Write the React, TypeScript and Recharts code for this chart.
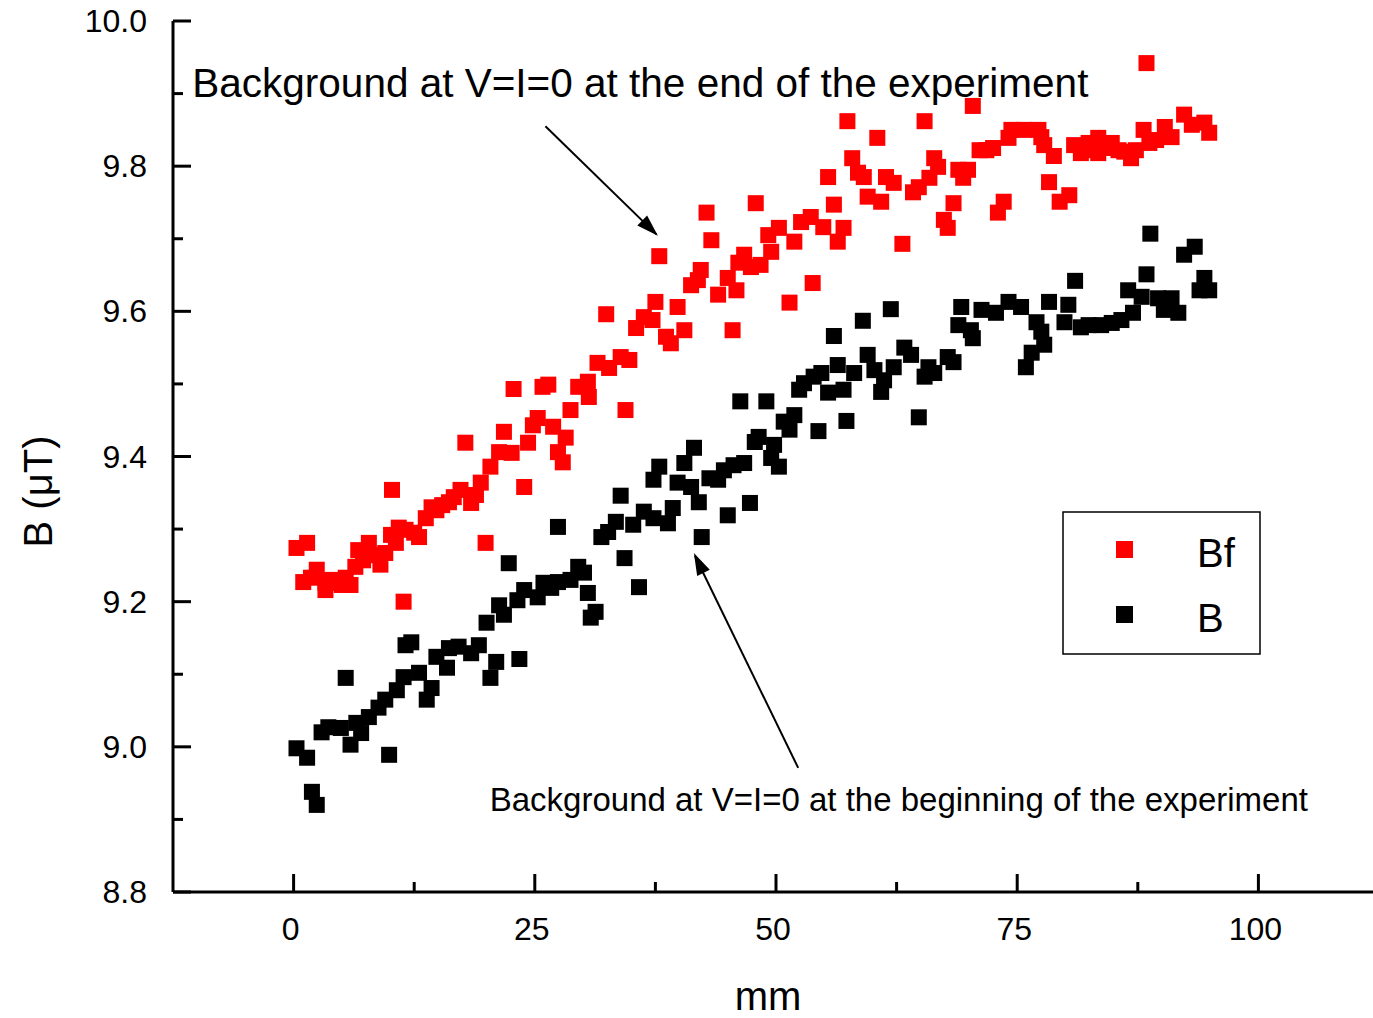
import React from "react";
import {
  ScatterChart,
  Scatter,
  XAxis,
  YAxis,
  ReferenceLine,
  ReferenceDot,
  Legend,
} from "recharts";

// ---- data (mm position, field in µT) ----
const bfMm = [
  0.3, 1.0, 1.4, 1.8, 2.4, 3.3, 3.3, 3.9, 4.4, 5.0, 5.4, 5.9, 6.4, 6.7, 7.2, 7.8, 8.2, 9.0, 9.5, 10.1,
  10.2, 10.6, 10.9, 11.4, 11.6, 12.5, 13.0, 13.7, 14.3, 14.8, 15.4, 16.1, 16.6, 17.3, 17.8, 18.4, 18.9,
  19.4, 19.9, 20.4, 21.3, 21.8, 22.6, 22.8, 23.9, 24.3, 24.8, 25.3, 25.8, 26.4, 26.9, 27.4, 27.9, 28.2,
  28.7, 29.5, 30.5, 30.6, 31.5, 32.4, 32.7, 33.9, 34.4, 34.8, 35.5, 36.3, 37.2, 37.5, 37.9, 38.6, 39.1,
  39.8, 40.5, 41.2, 41.9, 42.2, 42.8, 43.3, 44.0, 45.0, 45.5, 45.9, 46.1, 46.7, 47.4, 47.9, 48.4, 49.2,
  49.5, 50.3, 51.4, 51.9, 52.6, 53.6, 53.8, 54.9, 55.4, 56.0, 56.4, 57.0, 57.4, 57.9, 58.5, 59.1, 59.5,
  60.5, 60.9, 61.4, 62.2, 63.1, 64.2, 64.8, 65.4, 65.9, 66.4, 66.8, 67.4, 67.8, 68.4, 68.9, 69.4, 69.9,
  70.4, 71.1, 71.8, 72.5, 73.0, 73.6, 74.1, 74.4, 75.7, 77.2, 77.5, 77.8, 78.3, 78.8, 79.4, 80.4, 80.9,
  81.6, 82.4, 82.7, 83.4, 83.4, 84.0, 84.8, 85.5, 86.1, 86.8, 87.3, 88.1, 88.4, 88.7, 89.4, 90.3, 91.0,
  92.3, 93.1, 94.4, 94.9,
];
const bfValues = [
  9.274, 9.227, 9.281, 9.233, 9.244, 9.226, 9.216, 9.23, 9.226, 9.223, 9.233, 9.223, 9.248, 9.271, 9.257,
  9.281, 9.264, 9.251, 9.267, 9.292, 9.354, 9.281, 9.302, 9.2, 9.299, 9.295, 9.289, 9.315, 9.33, 9.326,
  9.333, 9.337, 9.344, 9.354, 9.419, 9.336, 9.347, 9.364, 9.281, 9.386, 9.406, 9.434, 9.405, 9.493, 9.358,
  9.419, 9.443, 9.453, 9.496, 9.499, 9.441, 9.406, 9.392, 9.426, 9.464, 9.496, 9.503, 9.482, 9.529, 9.596,
  9.522, 9.537, 9.464, 9.533, 9.577, 9.592, 9.588, 9.613, 9.676, 9.565, 9.556, 9.606, 9.574, 9.636, 9.643,
  9.657, 9.736, 9.698, 9.623, 9.646, 9.574, 9.629, 9.667, 9.678, 9.661, 9.749, 9.664, 9.705, 9.682, 9.715,
  9.612, 9.696, 9.723, 9.73, 9.639, 9.716, 9.785, 9.747, 9.696, 9.715, 9.862, 9.811, 9.791, 9.785, 9.758,
  9.839, 9.751, 9.785, 9.777, 9.693, 9.764, 9.771, 9.862, 9.784, 9.811, 9.799, 9.726, 9.715, 9.749, 9.795,
  9.784, 9.795, 9.883, 9.822, 9.822, 9.825, 9.736, 9.751, 9.839, 9.85, 9.85, 9.85, 9.84, 9.829, 9.778,
  9.814, 9.751, 9.76, 9.829, 9.818, 9.832, 9.822, 9.839, 9.818, 9.825, 9.832, 9.822, 9.82, 9.811, 9.822,
  9.85, 9.942, 9.832, 9.836, 9.854, 9.84, 9.871, 9.857, 9.86, 9.846,
];

const bMm = [
  0.3, 1.4, 1.9, 2.4, 2.9, 3.6, 4.9, 5.4, 5.9, 6.5, 7.0, 7.8, 8.8, 9.5, 9.9, 10.7, 11.4, 11.6, 12.2, 13.0,
  13.8, 14.3, 14.8, 15.9, 16.1, 17.1, 18.4, 19.2, 20.0, 20.4, 21.0, 21.3, 21.8, 22.3, 23.2, 23.4, 23.9,
  25.3, 25.9, 26.7, 27.4, 27.4, 28.7, 29.5, 30.1, 30.5, 30.8, 31.3, 31.9, 32.6, 33.4, 33.9, 34.3, 35.2,
  35.8, 36.3, 37.3, 37.3, 37.9, 38.8, 39.3, 39.8, 40.5, 41.2, 41.5, 42.0, 42.3, 43.1, 44.0, 44.6, 45.0,
  45.6, 46.3, 46.7, 47.3, 47.8, 48.2, 49.0, 49.5, 49.8, 50.3, 50.8, 51.4, 51.9, 52.4, 52.9, 53.9, 54.4,
  54.7, 55.4, 56.0, 56.4, 57.0, 57.3, 58.1, 59.0, 59.5, 60.2, 60.9, 61.2, 61.9, 62.2, 63.3, 64.0, 64.8,
  65.4, 65.8, 66.4, 67.8, 68.4, 68.9, 69.2, 70.2, 70.4, 71.3, 72.8, 74.1, 75.4, 75.9, 76.5, 77.0, 77.5,
  77.8, 78.3, 79.9, 80.3, 81.0, 81.6, 82.4, 83.7, 84.8, 85.8, 86.5, 87.0, 87.9, 88.4, 88.8, 89.6, 90.2,
  91.0, 91.7, 92.3, 93.4, 93.9, 94.4, 94.9,
];
const bValues = [
  8.998, 8.985, 8.938, 8.92, 9.02, 9.027, 9.026, 9.095, 9.003, 9.033, 9.019, 9.041, 9.054, 9.065, 8.989,
  9.078, 9.096, 9.14, 9.144, 9.102, 9.065, 9.081, 9.124, 9.109, 9.136, 9.138, 9.129, 9.14, 9.171, 9.095,
  9.117, 9.195, 9.182, 9.253, 9.202, 9.121, 9.216, 9.206, 9.226, 9.219, 9.303, 9.227, 9.23, 9.248, 9.24,
  9.212, 9.178, 9.186, 9.289, 9.296, 9.31, 9.346, 9.26, 9.306, 9.22, 9.324, 9.315, 9.368, 9.386, 9.308,
  9.329, 9.364, 9.391, 9.358, 9.412, 9.337, 9.289, 9.37, 9.368, 9.381, 9.319, 9.388, 9.476, 9.391, 9.336,
  9.42, 9.427, 9.476, 9.398, 9.416, 9.386, 9.448, 9.437, 9.457, 9.492, 9.501, 9.51, 9.435, 9.515, 9.488,
  9.566, 9.526, 9.492, 9.449, 9.515, 9.587, 9.54, 9.519, 9.489, 9.505, 9.603, 9.523, 9.55, 9.54, 9.454,
  9.51, 9.523, 9.515, 9.537, 9.53, 9.581, 9.606, 9.574, 9.563, 9.602, 9.598, 9.613, 9.606, 9.523, 9.543,
  9.585, 9.572, 9.554, 9.613, 9.585, 9.609, 9.642, 9.578, 9.581, 9.581, 9.584, 9.588, 9.629, 9.598, 9.62,
  9.651, 9.707, 9.618, 9.602, 9.618, 9.598, 9.678, 9.689, 9.629, 9.646, 9.629,
];

const xTicks = [-12.5, 0, 12.5, 25, 37.5, 50, 62.5, 75, 87.5, 100, 112.5];
const xLabels = [0, 25, 50, 75, 100];
const yTicks = [8.8, 8.9, 9.0, 9.1, 9.2, 9.3, 9.4, 9.5, 9.6, 9.7, 9.8, 9.9, 10.0];
const yLabels = [8.8, 9.0, 9.2, 9.4, 9.6, 9.8, 10.0];

const seriesNames = ["Bf", "B"];
const seriesColors = ["#ff0000", "#000000"];

const xTitle = "mm";
const yTitle = "B (\u03bcT)";
const annotTop = "Background at V=I=0 at the end of the experiment";
const annotBottom = "Background at V=I=0 at the beginning of the experiment";

const bfData = bfMm.map((x, i) => ({ x, y: bfValues[i] }));
const bData = bMm.map((x, i) => ({ x, y: bValues[i] }));

const FONT = "'Liberation Sans', Arial, Helvetica, sans-serif";
const MS = 16;

const squareShape = (color: string) => (props: any) => {
  const { cx, cy } = props;
  if (cx == null || cy == null) return <g />;
  return <rect x={cx - MS / 2} y={cy - MS / 2} width={MS} height={MS} fill={color} />;
};

const XTick = (props: any) => {
  const { x, y, payload } = props;
  const v = payload.value;
  if (v <= -12.5 || v >= 112.5) return <g />;
  const major = xLabels.includes(v);
  return (
    <g>
      <line x1={x} y1={y} x2={x} y2={y - (major ? 18 : 10)} stroke="#000" strokeWidth={3} />
      {major && (
        <text x={x - 3} y={y + 37} textAnchor="middle" dominantBaseline="central" fontSize={32} fontFamily={FONT} fill="#000">
          {v}
        </text>
      )}
    </g>
  );
};

const YTick = (props: any) => {
  const { x, y, payload } = props;
  const v = payload.value;
  const major = yLabels.some((l) => Math.abs(l - v) < 1e-6);
  return (
    <g>
      <line x1={x} y1={y} x2={x + (major ? 18 : 10)} y2={y} stroke="#000" strokeWidth={3} />
      {major && (
        <text x={x - 26} y={y} textAnchor="end" dominantBaseline="central" fontSize={32} fontFamily={FONT} fill="#000">
          {v.toFixed(1)}
        </text>
      )}
    </g>
  );
};

const YTitle = (props: any) => {
  const vb = props.viewBox || { x: 0, y: 21, width: 173, height: 871 };
  const cx = vb.x + 38;
  const cy = vb.y + vb.height / 2 + 35;
  return (
    <text
      x={cx}
      y={cy}
      transform={`rotate(-90, ${cx}, ${cy})`}
      textAnchor="middle"
      dominantBaseline="central"
      fontSize={40}
      fontFamily={FONT}
      fill="#000"
    >
      {yTitle}
    </text>
  );
};

const arrowHead = (angleDeg: number) => (props: any) => {
  const { cx, cy } = props;
  if (cx == null || cy == null) return <g />;
  return (
    <polygon
      points="0,0 -22,-7 -22,7"
      fill="#000"
      transform={`translate(${cx},${cy}) rotate(${angleDeg})`}
    />
  );
};

const textShape = (text: string, size: number) => (props: any) => {
  const { cx, cy } = props;
  if (cx == null || cy == null) return <g />;
  return (
    <text x={cx} y={cy} fontSize={size} fontFamily={FONT} fill="#000">
      {text}
    </text>
  );
};

const LegendBox = (props: any) => {
  const payload = (props.payload || []).slice().sort(
    (a: any, b: any) => seriesNames.indexOf(a.value) - seriesNames.indexOf(b.value)
  );
  return (
    <svg width={200} height={145} style={{ display: "block" }}>
      <rect x={1} y={1} width={197} height={142} fill="#fff" stroke="#000" strokeWidth={1.5} />
      {payload.map((p: any, i: number) => (
        <g key={p.value}>
          <rect x={62 - 8} y={38 + i * 65 - 8} width={17} height={17} fill={p.color} />
          <text x={135} y={42 + i * 65} fontSize={40} fontFamily={FONT} dominantBaseline="central" fill="#000">
            {p.value}
          </text>
        </g>
      ))}
    </svg>
  );
};

export default function App() {
  return (
    <div style={{ position: "absolute", left: 0, top: 0, width: 1373, height: 1018, overflow: "hidden", background: "#fff" }}>
      <ScatterChart width={1379} height={1018} margin={{ top: 21, right: 0, bottom: 0, left: 0 }}>
        <XAxis
          type="number"
          dataKey="x"
          domain={[-12.5, 112.5]}
          ticks={xTicks}
          interval={0}
          height={126}
          tickSize={0}
          tickMargin={0}
          tickLine={false}
          tick={<XTick />}
          axisLine={{ stroke: "#000", strokeWidth: 3 }}
          allowDataOverflow
          label={{ value: xTitle, position: "insideBottom", offset: 8, fontSize: 40, fontFamily: FONT, fill: "#000", dx: -8 }}
        />
        <XAxis
          xAxisId="top"
          orientation="top"
          type="number"
          domain={[-12.5, 112.5]}
          height={0}
          tick={false}
          tickLine={false}
          axisLine={{ stroke: "#000", strokeWidth: 3 }}
        />
        <YAxis
          type="number"
          dataKey="y"
          domain={[8.8, 10.0]}
          ticks={yTicks}
          interval={0}
          width={173}
          tickSize={0}
          tickMargin={0}
          tickLine={false}
          tick={<YTick />}
          axisLine={{ stroke: "#000", strokeWidth: 3 }}
          allowDataOverflow
          label={{ content: <YTitle /> }}
        />
        <Scatter
          name={seriesNames[0]}
          data={bfData}
          fill={seriesColors[0]}
          shape={squareShape(seriesColors[0])}
          isAnimationActive={false}
        />
        <Scatter
          name={seriesNames[1]}
          data={bData}
          fill={seriesColors[1]}
          shape={squareShape(seriesColors[1])}
          isAnimationActive={false}
        />
        <ReferenceLine
          segment={[{ x: 26.1, y: 9.855 }, { x: 37.6, y: 9.706 }]}
          stroke="#000"
          strokeWidth={2}
        />
        <ReferenceDot x={37.76} y={9.704} r={1} shape={arrowHead(44.5)} />
        <ReferenceLine
          segment={[{ x: 52.3, y: 8.971 }, { x: 41.6, y: 9.263 }]}
          stroke="#000"
          strokeWidth={2}
        />
        <ReferenceDot x={41.49} y={9.267} r={1} shape={arrowHead(-115.8)} />
        <ReferenceDot x={-10.5} y={9.895} r={1} shape={textShape(annotTop, 40.5)} />
        <ReferenceDot x={20.33} y={8.912} r={1} shape={textShape(annotBottom, 33)} />
        <Legend
          layout="horizontal"
          verticalAlign="middle"
          align="center"
          content={<LegendBox />}
          wrapperStyle={{ left: 1062, top: 511, width: 200, height: 145 }}
        />
      </ScatterChart>
    </div>
  );
}
